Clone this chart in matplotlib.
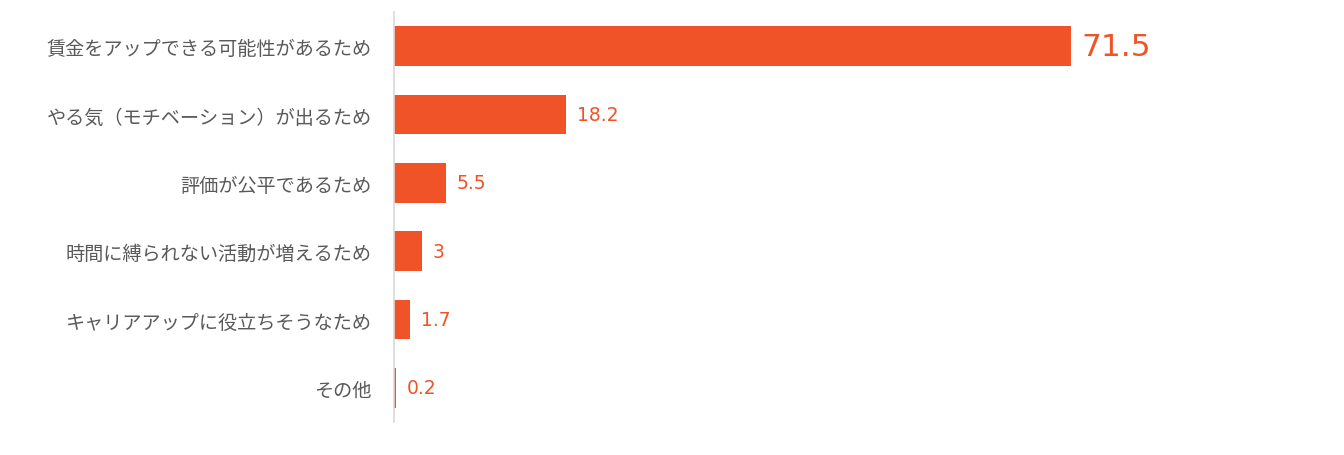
import matplotlib
matplotlib.use("Agg")
import matplotlib.pyplot as plt

plt.rcParams['font.family'] = ['Noto Sans CJK JP', 'DejaVu Sans']

# Data
reasons = [
    "賃金をアップできる可能性があるため",
    "やる気（モチベーション）が出るため",
    "評価が公平であるため",
    "時間に縛られない活動が増えるため",
    "キャリアアップに役立ちそうなため",
    "その他",
]
values = [71.5, 18.2, 5.5, 3, 1.7, 0.2]
value_labels = ["71.5", "18.2", "5.5", "3", "1.7", "0.2"]

bar_color = "#F05327"
text_grey = "#595959"

fig = plt.figure(figsize=(13.44, 4.56), dpi=100)
left_px, right_px = 394, 1250
ax = fig.add_axes([left_px / 1344, 33 / 456, (right_px - left_px) / 1344, 410 / 456])

y = list(range(len(reasons)))
ax.barh(y, values, height=0.585, color=bar_color)
ax.set_ylim(len(reasons) - 0.5, -0.5)
ax.set_xlim(0, (right_px - left_px) / 9.47)

ax.set_yticks(y)
ax.set_yticklabels(reasons, fontsize=13.8, color=text_grey)
ax.tick_params(axis='y', length=0, pad=16)
ax.set_xticks([])

for s in ["top", "right", "bottom"]:
    ax.spines[s].set_visible(False)
ax.spines["left"].set_color("#d9d9d9")
ax.spines["left"].set_linewidth(1.2)

for i, (v, lab) in enumerate(zip(values, value_labels)):
    size = 22.5 if i == 0 else 13.5
    ax.annotate(lab, xy=(v, i), xytext=(7.5, 0), textcoords="offset points",
                ha="left", va="center", fontsize=size, color=bar_color,
                family=['DejaVu Sans'])

fig.savefig("out.png", dpi=100)
